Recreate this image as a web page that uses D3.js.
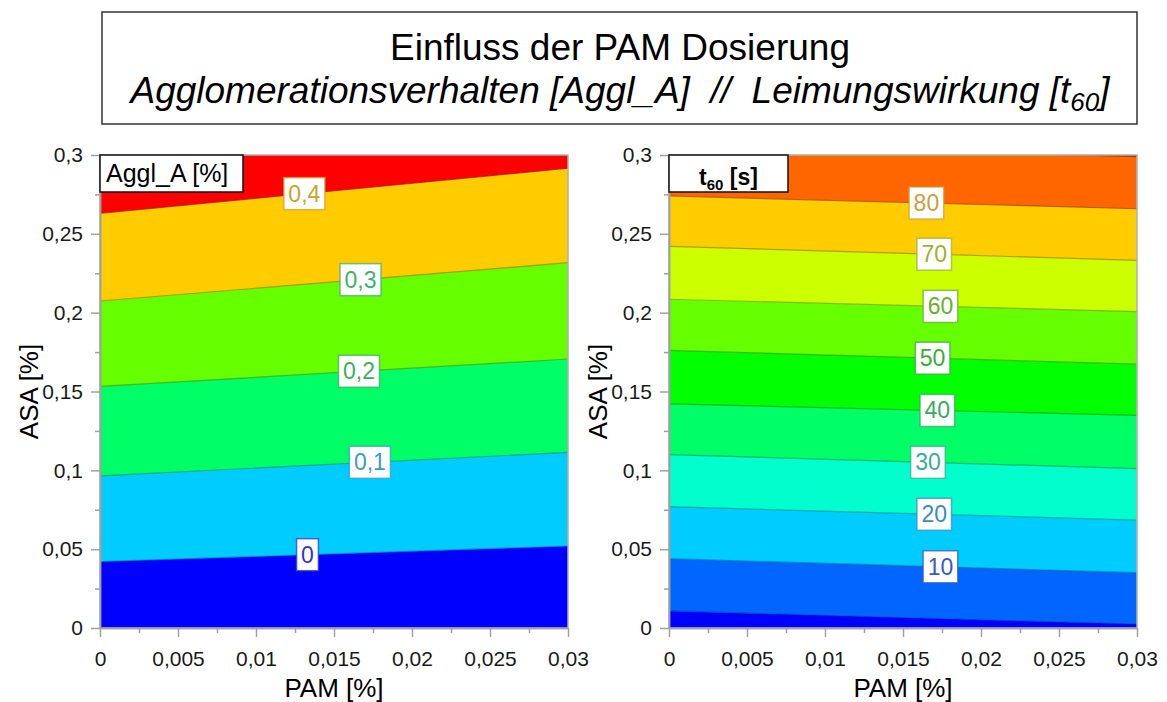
<!DOCTYPE html>
<html><head><meta charset="utf-8">
<script src="https://cdn.jsdelivr.net/npm/d3@7"></script>
<style>
body{margin:0;background:#fff}
svg{display:block;font-family:"Liberation Sans",Arial,sans-serif}
</style>
</head><body>
<svg id="c" width="1167" height="702"></svg>
<script>
// ---------- data ----------
const pamTicks = [0, 0.005, 0.01, 0.015, 0.02, 0.025, 0.03];
const pamTickLabels = ["0", "0,005", "0,01", "0,015", "0,02", "0,025", "0,03"];
const pamMinorTicks = [0.0025, 0.0075, 0.0125, 0.0175, 0.0225, 0.0275];
const asaTicks = [0, 0.05, 0.1, 0.15, 0.2, 0.25, 0.3];
const asaTickLabels = ["0", "0,05", "0,1", "0,15", "0,2", "0,25", "0,3"];
const asaMinorTicks = [0.025, 0.075, 0.125, 0.175, 0.225, 0.275];

// Aggl_A [%] contour lines: ASA value of each iso-line at PAM = 0 and PAM = 0.03
const agglLevels = [0, 0.1, 0.2, 0.3, 0.4];
const agglLevelLabels = ["0", "0,1", "0,2", "0,3", "0,4"];
const agglAsaAtPam0 = [0.0421, 0.0965, 0.1532, 0.2074, 0.2630];
const agglAsaAtPam003 = [0.0520, 0.1114, 0.1706, 0.2317, 0.2916];
const agglLabelPam = [0.0133, 0.0173, 0.0166, 0.0167, 0.0131];

// t60 [s] contour lines
const t60Levels = [0, 10, 20, 30, 40, 50, 60, 70, 80, 90];
const t60LevelLabels = ["0", "10", "20", "30", "40", "50", "60", "70", "80", "90"];
const t60AsaAtPam0 = [0.0108, 0.0440, 0.0770, 0.1100, 0.1422, 0.1761, 0.2085, 0.2421, 0.2740, 0.3071];
const t60AsaAtPam003 = [0.0025, 0.0351, 0.0684, 0.1011, 0.1348, 0.1673, 0.2007, 0.2332, 0.2659, 0.2990];
const t60LabelPam = [null, 0.0174, 0.0170, 0.0166, 0.0172, 0.0169, 0.0174, 0.0170, 0.0165, null];

// ---------- styles ----------
const agglColors = ["#0000ff", "#00ccff", "#00ff66", "#66ff00", "#ffcc00", "#ff0000"];
const agglLabelColors = ["#3636c8", "#3a9cc4", "#3aae5c", "#40b070", "#c8a42c"];
const t60Colors = ["#0000ff", "#0066ff", "#00ccff", "#00ffcc", "#00ff66", "#00ff00", "#66ff00", "#ccff00", "#ffcc00", "#ff6600", "#ee2a00"];
const t60LabelColors = [null, "#3a58c4", "#3a8cc0", "#3aaa9c", "#3aaa60", "#3aaa3a", "#6aae30", "#a2b02c", "#c8a040", null];

const svg = d3.select("#c");
const TOP = 155, BOTTOM = 628;

// ---------- title ----------
svg.append("rect").attr("x", 102).attr("y", 12).attr("width", 1035).attr("height", 112)
  .attr("fill", "#fff").attr("stroke", "#333").attr("stroke-width", 1.5);
svg.append("text").attr("x", 620).attr("y", 60).attr("text-anchor", "middle")
  .attr("font-size", 37).attr("fill", "#000").text("Einfluss der PAM Dosierung");
const t2 = svg.append("text").attr("x", 620).attr("y", 103).attr("text-anchor", "middle")
  .attr("font-size", 37).attr("font-style", "italic").attr("fill", "#000").style("white-space", "pre");
t2.append("tspan").text("Agglomerationsverhalten [Aggl_A]  //  Leimungswirkung [t");
t2.append("tspan").attr("font-size", 26).attr("dy", 8).text("60");
t2.append("tspan").attr("dy", -8).text("]");

// ---------- panel ----------
function panel(cfg) {
  const x = d3.scaleLinear().domain([0, 0.03]).range([cfg.left, cfg.right]);
  const y = d3.scaleLinear().domain([0, 0.3]).range([BOTTOM, TOP]);
  const g = svg.append("g");
  const clipId = "clip" + cfg.id;
  svg.append("clipPath").attr("id", clipId).append("rect")
    .attr("x", cfg.left).attr("y", TOP).attr("width", cfg.right - cfg.left).attr("height", BOTTOM - TOP);
  const fg = g.append("g").attr("clip-path", `url(#${clipId})`);
  const n = cfg.levels.length;
  const line = d3.line().x(d => x(d[0])).y(d => y(d[1]));
  const iso = i => i < 0 ? [[0, -0.1], [0.03, -0.1]]
                : i >= n ? [[0, 0.45], [0.03, 0.45]]
                : [[0, cfg.a0[i]], [0.03, cfg.a3[i]]];
  for (let k = 0; k <= n; k++) {
    const lo = iso(k - 1), hi = iso(k);
    fg.append("path").attr("d", line([lo[0], lo[1], hi[1], hi[0]]) + "Z")
      .attr("fill", cfg.colors[k]).attr("stroke", cfg.colors[k]).attr("stroke-width", 0.5);
  }
  for (let i = 0; i < n; i++) {
    fg.append("path").attr("d", line(iso(i))).attr("fill", "none")
      .attr("stroke", "rgba(0,0,40,0.28)").attr("stroke-width", 1.2);
  }
  // frame
  g.append("rect").attr("x", cfg.left).attr("y", TOP).attr("width", cfg.right - cfg.left)
    .attr("height", BOTTOM - TOP).attr("fill", "none").attr("stroke", "#b0b0b0").attr("stroke-width", 1.5);

  // contour labels
  for (let i = 0; i < n; i++) {
    const p = cfg.labelPam[i];
    if (p == null) continue;
    const asa = cfg.a0[i] + (cfg.a3[i] - cfg.a0[i]) * p / 0.03;
    const cx = x(p), cy = y(asa);
    const lg = g.append("g");
    const r = lg.append("rect");
    const t = lg.append("text").attr("x", cx).attr("y", cy + 8).attr("text-anchor", "middle")
      .attr("font-size", 23).attr("fill", cfg.labelColors[i]).text(cfg.labels[i]);
    const w = t.node().getComputedTextLength() + 9;
    r.attr("x", cx - w / 2).attr("y", cy - 16).attr("width", w).attr("height", 32)
      .attr("fill", "#fff").attr("stroke", cfg.labelColors[i]).attr("stroke-opacity", 0.75).attr("stroke-width", 1.5);
  }

  // axes
  g.append("g").attr("transform", `translate(0,${BOTTOM})`)
    .call(d3.axisBottom(x).tickValues(pamTicks).tickFormat((d, i) => pamTickLabels[i]).tickSize(9).tickSizeOuter(0).tickPadding(14));
  g.append("g").attr("transform", `translate(0,${BOTTOM})`)
    .call(d3.axisBottom(x).tickValues(pamMinorTicks).tickFormat("").tickSize(5).tickSizeOuter(0));
  g.append("g").attr("transform", `translate(${cfg.left},0)`)
    .call(d3.axisLeft(y).tickValues(asaTicks).tickFormat((d, i) => asaTickLabels[i]).tickSize(9).tickSizeOuter(0).tickPadding(8));
  g.append("g").attr("transform", `translate(${cfg.left},0)`)
    .call(d3.axisLeft(y).tickValues(asaMinorTicks).tickFormat("").tickSize(5).tickSizeOuter(0));
  g.selectAll(".domain, .tick line").attr("stroke", "#a0a0a0").attr("stroke-width", 1.5);
  g.selectAll(".tick text").attr("font-size", 21).attr("fill", "#1a1a1a")
    .attr("font-family", '"Liberation Sans",Arial,sans-serif');

  // axis titles
  g.append("text").attr("x", (cfg.left + cfg.right) / 2).attr("y", 697).attr("text-anchor", "middle")
    .attr("font-size", 26).attr("fill", "#000").text("PAM [%]");
  g.append("text").attr("transform", `translate(${cfg.left - 62},${(TOP + BOTTOM) / 2}) rotate(-90)`)
    .attr("text-anchor", "middle").attr("font-size", 26).attr("fill", "#000").text("ASA [%]");

  // legend box
  g.append("rect").attr("x", cfg.left).attr("y", TOP).attr("width", cfg.legendW).attr("height", 37)
    .attr("fill", "#fff").attr("stroke", "#111").attr("stroke-width", 1.5);
  cfg.legend(g, cfg.left, cfg.legendW);
}

panel({
  id: "a", left: 100, right: 568,
  levels: agglLevels, labels: agglLevelLabels, a0: agglAsaAtPam0, a3: agglAsaAtPam003,
  labelPam: agglLabelPam, colors: agglColors, labelColors: agglLabelColors, legendW: 143,
  legend: (g, l) => g.append("text").attr("x", l + 6).attr("y", 182).attr("font-size", 25)
    .attr("fill", "#000").text("Aggl_A [%]")
});

panel({
  id: "b", left: 669, right: 1137,
  levels: t60Levels, labels: t60LevelLabels, a0: t60AsaAtPam0, a3: t60AsaAtPam003,
  labelPam: t60LabelPam, colors: t60Colors, labelColors: t60LabelColors, legendW: 119,
  legend: (g, l, w) => {
    const t = g.append("text").attr("x", l + w / 2).attr("y", 185).attr("text-anchor", "middle")
      .attr("font-size", 23).attr("font-weight", "bold").attr("fill", "#000");
    t.append("tspan").text("t");
    t.append("tspan").attr("font-size", 15).attr("dy", 5).text("60");
    t.append("tspan").attr("dy", -5).style("white-space", "pre").text(" [s]");
  }
});
</script>
</body></html>
